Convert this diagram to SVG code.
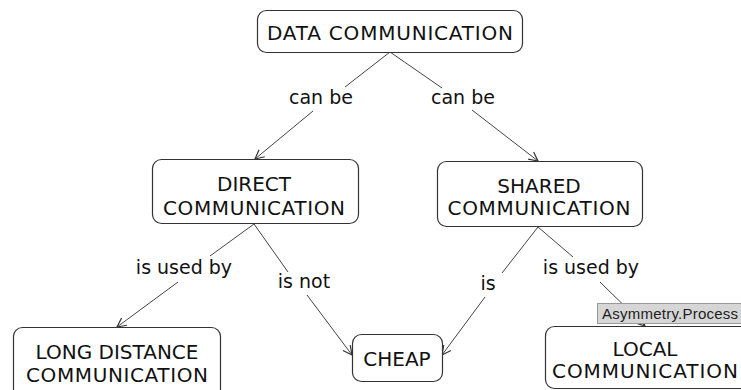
<svg xmlns="http://www.w3.org/2000/svg" width="741" height="390" viewBox="0 0 741 390">
<style>
.box{fill:#fff;stroke:#333;stroke-width:1.2}
.nt{font-family:"DejaVu Sans",Verdana,sans-serif;font-size:20px;fill:#111;text-anchor:middle}
.lt{font-family:"DejaVu Sans",Verdana,sans-serif;font-size:19px;fill:#111;text-anchor:middle}
.ln{stroke:#444;stroke-width:1;fill:none}
.tip{fill:#d6d6d6;stroke:#9a9a9a;stroke-width:1}
.tt{font-family:"Liberation Sans",Arial,sans-serif;font-size:15px;fill:#222}
</style>
<defs>
<marker id="arr" markerUnits="userSpaceOnUse" markerWidth="20" markerHeight="20" viewBox="-10 -10 20 20" refX="0" refY="0" orient="auto">
<path d="M-9,-4.5 L0,0 L-9,4.5" fill="none" stroke="#333" stroke-width="1.2"/>
</marker>
</defs>
<rect width="741" height="390" fill="#fff"/>
<g id="connectors">
<line class="ln" x1="390" y1="52" x2="345" y2="87"/>
<line class="ln" x1="313" y1="111" x2="255" y2="159" marker-end="url(#arr)"/>
<line class="ln" x1="390" y1="52" x2="442" y2="88"/>
<line class="ln" x1="472" y1="110" x2="538" y2="161" marker-end="url(#arr)"/>
<line class="ln" x1="254" y1="224" x2="210" y2="256"/>
<line class="ln" x1="178" y1="282" x2="117" y2="327" marker-end="url(#arr)"/>
<line class="ln" x1="254" y1="224" x2="288" y2="272"/>
<line class="ln" x1="307" y1="295" x2="352" y2="355" marker-end="url(#arr)"/>
<line class="ln" x1="538" y1="227" x2="502" y2="273"/>
<line class="ln" x1="485" y1="297" x2="442" y2="355" marker-end="url(#arr)"/>
<line class="ln" x1="538" y1="227" x2="573" y2="257"/>
<line class="ln" x1="600" y1="282" x2="645" y2="326" marker-end="url(#arr)"/>
<text class="lt" x="321" y="104">can be</text>
<text class="lt" x="463" y="104">can be</text>
<text class="lt" x="184" y="274">is used by</text>
<text class="lt" x="304" y="288">is not</text>
<text class="lt" x="488" y="290">is</text>
<text class="lt" x="591" y="274">is used by</text>
</g>
<g id="data">
<rect class="box" x="257.5" y="10.5" width="265" height="42" rx="9"/>
<text class="nt" x="390" y="40" textLength="246">DATA COMMUNICATION</text>
</g>
<g id="direct">
<rect class="box" x="152.5" y="159.5" width="206" height="64" rx="9"/>
<text class="nt" x="254" y="191">DIRECT</text>
<text class="nt" x="254" y="215" textLength="182">COMMUNICATION</text>
</g>
<g id="shared">
<rect class="box" x="437.5" y="161.5" width="205" height="65" rx="9"/>
<text class="nt" x="539" y="192.5">SHARED</text>
<text class="nt" x="539" y="215" textLength="183">COMMUNICATION</text>
</g>
<g id="long">
<rect class="box" x="13.5" y="327.5" width="207" height="72" rx="9"/>
<text class="nt" x="117" y="359">LONG DISTANCE</text>
<text class="nt" x="117" y="382" textLength="182">COMMUNICATION</text>
</g>
<g id="cheap">
<rect class="box" x="352.5" y="334.5" width="90" height="47" rx="9"/>
<text class="nt" x="397" y="366">CHEAP</text>
</g>
<g id="local">
<rect class="box" x="545.5" y="326.5" width="210" height="62" rx="9"/>
<text class="nt" x="645" y="356">LOCAL</text>
<text class="nt" x="645" y="378" textLength="186">COMMUNICATION</text>
</g>
<g id="tooltip">
<rect class="tip" x="597.5" y="303.5" width="150" height="20"/>
<text class="tt" x="602" y="319" textLength="136">Asymmetry.Process</text>
</g>
</svg>
